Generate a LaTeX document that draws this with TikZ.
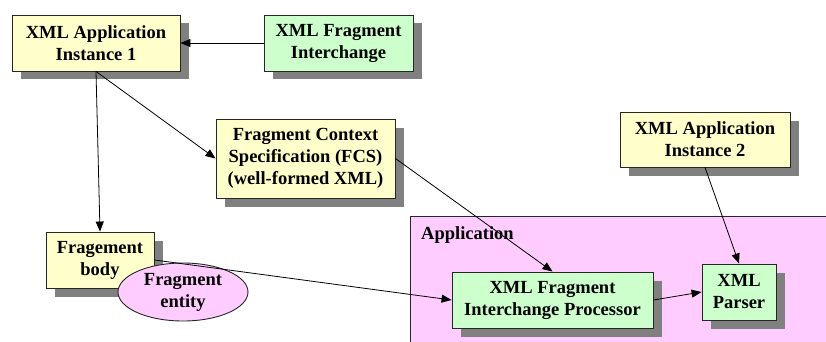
\documentclass[tikz,border=0pt]{standalone}
\usepackage{fontspec}
\setmainfont{Liberation Serif}
\usetikzlibrary{arrows.meta,shapes.geometric,shadows}
\definecolor{boxyellow}{HTML}{FFFFCC}
\definecolor{boxgreen}{HTML}{CCFFCC}
\definecolor{apppink}{HTML}{FFCCFF}
\definecolor{shadowgray}{HTML}{808080}
\newcommand\diagfont{\bfseries\fontsize{18.5}{22}\selectfont}
\tikzset{
  box/.style={draw=black!85, line width=0.9pt, align=center, inner sep=2pt,
    font=\diagfont,
    drop shadow={shadow xshift=8.5pt, shadow yshift=-8.5pt, fill=shadowgray, opacity=1}},
  ybox/.style={box, fill=boxyellow},
  gbox/.style={box, fill=boxgreen},
  link/.style={draw=black, line width=0.8pt},
  arr/.style={link, -{Triangle[length=10pt,width=8pt]}},
}
\begin{document}
\begin{tikzpicture}[x=1pt,y=-1pt]
\useasboundingbox (0,0) rectangle (826,342);
% application area
\fill[apppink] (410,216) rectangle (830,346);
\draw[black!85, line width=0.9pt] (410,346) -- (410,216) -- (830,216);
\node[anchor=base west, font=\diagfont, inner sep=0pt] (applabel) at (421,239) {Application};
% boxes
\node[ybox, minimum width=168pt, minimum height=56pt] (app1) at (96,43) {XML Application\\Instance 1};
\node[gbox, minimum width=149pt, minimum height=56pt] (frag) at (338.5,43) {XML Fragment\\Interchange};
\node[ybox, minimum width=179pt, minimum height=79pt] (fcs) at (305.5,158.5) {Fragment Context\\Specification (FCS)\\(well-formed XML)};
\node[ybox, minimum width=170pt, minimum height=55pt] (app2) at (705,139.5) {XML Application\\Instance 2};
\node[ybox, minimum width=108pt, minimum height=56pt] (body) at (100,260) {Fragement\\body};
\node[ellipse, draw=black!85, line width=0.9pt, fill=apppink, minimum width=130pt, minimum height=58pt,
  inner sep=0pt, align=center, font=\diagfont] (entity) at (183,292) {Fragment\\entity};
\node[gbox, minimum width=201pt, minimum height=56pt] (fip) at (552.5,300) {XML Fragment\\Interchange Processor};
\node[gbox, minimum width=74pt, minimum height=56pt] (parser) at (739,292) {XML\\Parser};
% connectors
\draw[arr] (frag.west) -- (app1.east);
\draw[arr] (app1.south) -- (body.north);
\draw[arr] (app1.south) -- (fcs.west);
\draw[arr] (fcs.east) -- (fip.north);
\draw[arr] (body.east) -- (fip.west);
\draw[arr] (app2.south) -- (parser.north);
\draw[arr] (fip.east) -- (parser.west);
\end{tikzpicture}
\end{document}
